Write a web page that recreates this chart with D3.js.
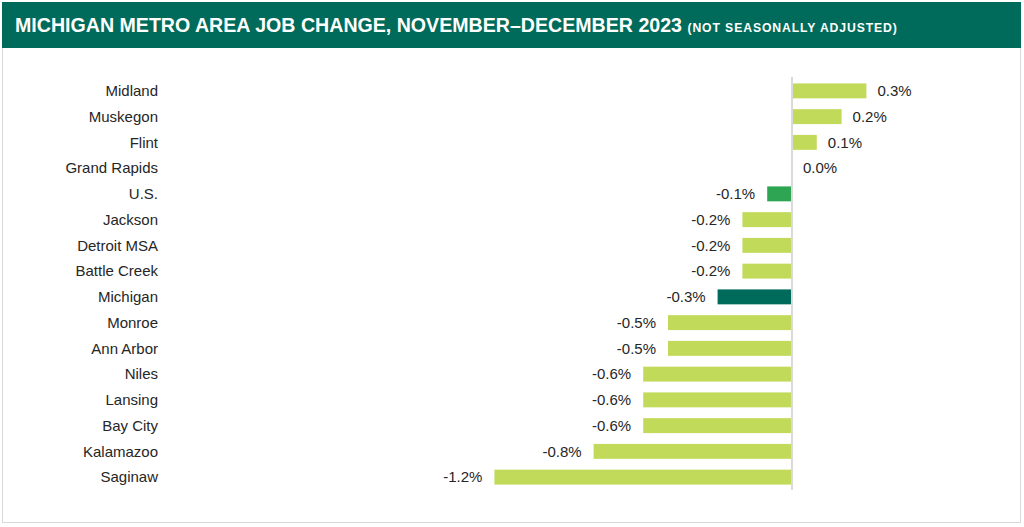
<!DOCTYPE html>
<html>
<head>
<meta charset="utf-8">
<script src="https://cdn.jsdelivr.net/npm/d3@7"></script>
<style>
  body { margin: 0; background: #fff; font-family: "Liberation Sans", Arial, sans-serif; }
</style>
</head>
<body>
<script>
// chart data
const areas = ['Midland', 'Muskegon', 'Flint', 'Grand Rapids', 'U.S.', 'Jackson', 'Detroit MSA',
    'Battle Creek', 'Michigan', 'Monroe', 'Ann Arbor', 'Niles', 'Lansing', 'Bay City', 'Kalamazoo', 'Saginaw']
const changes = [0.3, 0.2, 0.1, 0.0, -0.1, -0.2, -0.2, -0.2, -0.3, -0.5, -0.5, -0.6, -0.6, -0.6, -0.8, -1.2]
const highlight = { 'U.S.': '#2ea552', 'Michigan': '#006b5a' }

const m = {
    width: 1024,
    height: 527,
    zeroX: 792,
    pxPerPct: 248,
    top: 78,
    bottom: 490,
    labelX: 158
}

const data = areas.map((a, i) => ({ area: a, value: changes[i] }))

const svg = d3.select('body').append('svg')
    .attr('width', m.width)
    .attr('height', m.height)

// panel and header
svg.append('rect')
    .attr('x', 2.5).attr('y', 2.5)
    .attr('width', 1018).attr('height', 520)
    .attr('fill', '#fff')
    .attr('stroke', '#d9d9d9')

svg.append('rect')
    .attr('x', 2).attr('y', 2)
    .attr('width', 1019).attr('height', 46)
    .attr('fill', '#006b5a')

const title = svg.append('text')
    .attr('x', 15)
    .attr('y', 32)
    .attr('fill', '#fff')
    .attr('font-weight', 'bold')
    .attr('font-size', 19.6)
title.append('tspan').text('MICHIGAN METRO AREA JOB CHANGE, NOVEMBER–DECEMBER 2023 ')
title.append('tspan')
    .attr('font-size', 12.2)
    .attr('letter-spacing', 0.9)
    .text('(NOT SEASONALLY ADJUSTED)')

// scales
const xScale = d3.scaleLinear()
    .domain([-1.2, 0.3])
    .range([m.zeroX - 1.2 * m.pxPerPct, m.zeroX + 0.3 * m.pxPerPct])

const yScale = d3.scaleBand()
    .domain(areas)
    .range([m.top, m.bottom])
    .paddingInner(0.42)
    .paddingOuter(0.21)

// bars
svg.selectAll('rect.bar')
    .data(data)
    .join('rect')
    .attr('class', 'bar')
    .attr('x', d => xScale(Math.min(0, d.value)))
    .attr('y', d => yScale(d.area))
    .attr('width', d => Math.abs(xScale(d.value) - xScale(0)))
    .attr('height', yScale.bandwidth())
    .attr('fill', d => highlight[d.area] || '#c2da5a')

// zero line
svg.append('line')
    .attr('x1', xScale(0)).attr('x2', xScale(0))
    .attr('y1', m.top - 1).attr('y2', m.bottom)
    .attr('stroke', '#d9d9d9')
    .attr('stroke-width', 2)

// category labels
svg.selectAll('text.cat')
    .data(data)
    .join('text')
    .attr('class', 'cat')
    .attr('x', m.labelX)
    .attr('y', d => yScale(d.area) + yScale.bandwidth() / 2)
    .attr('dy', '0.35em')
    .attr('text-anchor', 'end')
    .attr('font-size', 15)
    .attr('fill', '#262626')
    .text(d => d.area)

// value labels (plain hyphen for negatives, like the original)
svg.selectAll('text.val')
    .data(data)
    .join('text')
    .attr('class', 'val')
    .attr('x', d => d.value < 0 ? xScale(d.value) - 12 : xScale(d.value) + 11)
    .attr('y', d => yScale(d.area) + yScale.bandwidth() / 2)
    .attr('dy', '0.35em')
    .attr('text-anchor', d => d.value < 0 ? 'end' : 'start')
    .attr('font-size', 15)
    .attr('fill', '#262626')
    .text(d => d.value.toFixed(1) + '%')
</script>
</body>
</html>
